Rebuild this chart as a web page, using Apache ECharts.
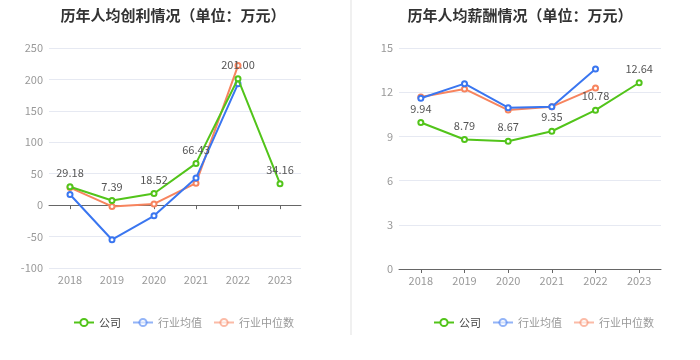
<!DOCTYPE html>
<html><head><meta charset="utf-8">
<script src="https://cdn.jsdelivr.net/npm/echarts@6/dist/echarts.min.js"></script>
<style>html,body{margin:0;padding:0;background:#fff}#c{width:700px;height:360px}</style>
</head><body><div id="c"></div>
<script>
const years = ['2018','2019','2020','2021','2022','2023'];
const seriesNames = ['公司','行业均值','行业中位数'];
// 历年人均创利 (万元)
const profitCompany = [29.18, 7.39, 18.52, 66.43, 201.00, 34.16];
const profitMean = [17, -55, -17, 43, 193, null];
const profitMedian = [28, -2, 2, 35, 222, null];
// 历年人均薪酬 (万元)
const salaryCompany = [9.94, 8.79, 8.67, 9.35, 10.78, 12.64];
const salaryMean = [11.59, 12.58, 10.95, 11.02, 13.57, null];
const salaryMedian = [11.68, 12.22, 10.79, 11.02, 12.29, null];
const titles = ['历年人均创利情况（单位：万元）','历年人均薪酬情况（单位：万元）'];

const colors = ['#52c41a','#3a76f0','#f7845e'];
const FONT = '"Noto Sans CJK SC","Noto Sans",sans-serif';

function mkSeries(name, data, idx, gi, labelOn) {
  return {
    name: name, type: 'line', data: data,
    xAxisIndex: gi === 0 ? 0 : 2, yAxisIndex: gi,
    symbol: 'emptyCircle', symbolSize: 5,
    lineStyle: {width: 2, color: colors[idx]},
    itemStyle: {color: colors[idx], borderWidth: 1.5},
    label: labelOn ? {show: true, position: 'top', color: '#555', fontSize: 11, fontFamily: FONT,
      formatter: p => p.value.toFixed(2)} : {show: false},
    z: 10 - idx
  };
}
function legend(left) {
  return {
    left: left, top: 312, orient: 'horizontal',
    itemWidth: 20, itemHeight: 9, itemGap: 11,
    textStyle: {fontSize: 11, fontFamily: FONT, color: '#999'},
    data: [
      {name: '公司', textStyle: {color: '#444'}},
      {name: '行业均值', itemStyle: {opacity: 0.55}, lineStyle: {opacity: 0.55}},
      {name: '行业中位数', itemStyle: {opacity: 0.55}, lineStyle: {opacity: 0.55}}
    ]
  };
}
const axisLabel = {color: '#999', fontSize: 11, fontFamily: FONT};
const splitLine = {lineStyle: {color: '#e6e9f2'}};

const option = {
  animation: false,
  color: colors,
  title: [
    {text: titles[0], left: 168, top: 3, textAlign: 'center', textStyle: {fontSize: 15, fontWeight: 'bold', color: '#333', fontFamily: FONT}},
    {text: titles[1], left: 515, top: 3, textAlign: 'center', textStyle: {fontSize: 15, fontWeight: 'bold', color: '#333', fontFamily: FONT}}
  ],
  legend: [legend(68), legend(428)],
  grid: [
    {left: 49, top: 48, width: 252, height: 220},
    {left: 399, top: 48, width: 262, height: 221}
  ],
  xAxis: [
    {gridIndex: 0, type: 'category', data: years, position: 'bottom',
     axisLine: {show: false, onZero: false}, axisTick: {show: false},
     axisLabel: Object.assign({margin: 6}, axisLabel)},
    {gridIndex: 0, type: 'category', data: years, position: 'bottom',
     axisLine: {show: true, onZero: true, lineStyle: {color: '#666'}},
     axisTick: {show: true, alignWithLabel: true, length: 4, lineStyle: {color: '#666'}},
     axisLabel: {show: false}},
    {gridIndex: 1, type: 'category', data: years, position: 'bottom',
     axisLine: {show: true, lineStyle: {color: '#666'}},
     axisTick: {show: true, alignWithLabel: true, length: 4, lineStyle: {color: '#666'}},
     axisLabel: Object.assign({margin: 6}, axisLabel)}
  ],
  yAxis: [
    {gridIndex: 0, type: 'value', min: -100, max: 250, interval: 50,
     axisLine: {show: false}, axisTick: {show: false}, axisLabel: Object.assign({margin: 6}, axisLabel), splitLine: splitLine},
    {gridIndex: 1, type: 'value', min: 0, max: 15, interval: 3,
     axisLine: {show: false}, axisTick: {show: false}, axisLabel: Object.assign({margin: 6}, axisLabel), splitLine: splitLine}
  ],
  graphic: [{type: 'line', shape: {x1: 351, y1: 0, x2: 351, y2: 335}, style: {stroke: '#f0f0f0', lineWidth: 2}}],
  series: [
    mkSeries(seriesNames[0], profitCompany, 0, 0, true),
    mkSeries(seriesNames[1], profitMean, 1, 0, false),
    mkSeries(seriesNames[2], profitMedian, 2, 0, false),
    mkSeries(seriesNames[0], salaryCompany, 0, 1, true),
    mkSeries(seriesNames[1], salaryMean, 1, 1, false),
    mkSeries(seriesNames[2], salaryMedian, 2, 1, false)
  ]
};
echarts.init(document.getElementById('c'), null, {renderer: 'canvas'}).setOption(option);
</script></body></html>
